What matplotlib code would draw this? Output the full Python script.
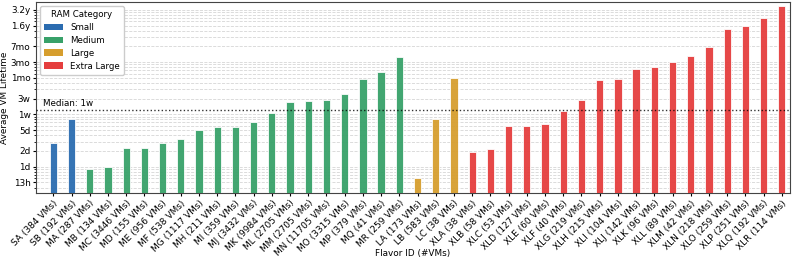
import numpy as np
import matplotlib
matplotlib.use("Agg")
import matplotlib.pyplot as plt
from matplotlib.patches import Patch
from matplotlib.ticker import NullFormatter, LogLocator

# Flavor IDs, VM counts, and average lifetime (seconds)
flavors = ["SA", "SB", "MA", "MB", "MC", "MD", "ME", "MF", "MG", "MH", "MI",
           "MJ", "MK", "ML", "MM", "MN", "MO", "MP", "MQ", "MR", "LA", "LB",
           "LC", "XLA", "XLB", "XLC", "XLD", "XLE", "XLF", "XLG", "XLH", "XLI",
           "XLJ", "XLK", "XLL", "XLM", "XLN", "XLO", "XLP", "XLQ", "XLR"]
vm_counts = [384, 192, 287, 134, 3446, 155, 956, 538, 1117, 211, 359,
             3432, 9984, 2705, 2705, 11705, 3315, 379, 41, 259, 173, 583,
             38, 38, 58, 53, 127, 60, 40, 219, 215, 104,
             142, 96, 89, 42, 218, 259, 251, 192, 114]
lifetimes = [2.88e5, 8.17e5, 9.0e4, 9.9e4, 2.25e5, 2.25e5, 2.84e5, 3.34e5,
             5.03e5, 5.82e5, 5.82e5, 7.25e5, 1.08e6, 1.75e6, 1.83e6, 1.86e6,
             2.42e6, 4.69e6, 6.47e6, 1.27e7, 6.0e4, 8.17e5, 4.90e6,
             1.94e5, 2.18e5, 6.0e5, 6.0e5, 6.55e5, 1.16e6, 1.86e6, 4.49e6,
             4.75e6, 7.48e6, 7.96e6, 9.91e6, 1.33e7, 1.94e7, 4.24e7, 4.83e7,
             6.97e7, 1.20e8]
categories = ["Small"] * 2 + ["Medium"] * 18 + ["Large"] * 3 + ["Extra Large"] * 18

median_lifetime = 1.19e6
median_label = "Median: 1w"

ytick_values = [5e4, 1e5, 2e5, 5e5, 1e6, 2e6, 5e6, 1e7, 2e7, 5e7, 1e8]
ytick_labels = ["13h", "1d", "2d", "5d", "1w", "3w", "1mo", "3mo", "7mo", "1.6y", "3.2y"]

colores = {
    "Small": "#2b6cb0",
    "Medium": "#38a169",
    "Large": "#d69e2e",
    "Extra Large": "#e53e3e",
}

fig = plt.figure(figsize=(7.93, 2.65), dpi=100)
ax = fig.add_axes([0.0454, 0.2717, 0.9508, 0.7208])

x = np.arange(len(flavors))
ax.bar(x, lifetimes, width=0.4,
       color=[colores[c] for c in categories],
       edgecolor="white", linewidth=0.6, alpha=0.95, zorder=3)

ax.set_yscale("log")
ax.set_ylim(3.14e4, 1.41e8)
ax.set_xlim(-0.95, 40.45)

ax.set_yticks(ytick_values)
ax.set_yticklabels(ytick_labels, fontsize=6.4)
ax.yaxis.set_minor_locator(LogLocator(base=10, subs=np.arange(2, 10)))
ax.yaxis.set_minor_formatter(NullFormatter())
ax.tick_params(axis="both", which="major", length=2.5, pad=1.5)
ax.tick_params(axis="y", which="minor", length=1.5)

ax.set_xticks(x)
ax.set_xticklabels([f"{f} ({n} VMs)" for f, n in zip(flavors, vm_counts)],
                   rotation=45, ha="right", rotation_mode="anchor", fontsize=6.5)

ax.grid(True, which="both", axis="y", linestyle="--", color="#cccccc",
        linewidth=0.6, alpha=0.8, zorder=0)

# Linha da mediana
ax.axhline(median_lifetime, color="black", linestyle=":", linewidth=1.0, alpha=0.8, zorder=4)
ax.text(-0.55, median_lifetime * 1.12, median_label, fontsize=6.3, va="bottom", ha="left")

ax.set_ylabel("Average VM Lifetime", fontsize=6.4)
ax.set_xlabel("Flavor ID (#VMs)", fontsize=6.4)
ax.yaxis.set_label_coords(-0.036, 0.5)
ax.xaxis.set_label_coords(0.5, -0.295)

for s in ax.spines.values():
    s.set_color("#444444")

handles = [Patch(facecolor=colores[k], label=k) for k in colores]
ax.legend(handles=handles, title="RAM Category", loc="upper left",
          fontsize=6.2, title_fontsize=6.2, framealpha=1.0,
          labelspacing=0.45, borderpad=0.45, handleheight=0.85, handlelength=2.2)

fig.savefig("out.png", dpi=100)
